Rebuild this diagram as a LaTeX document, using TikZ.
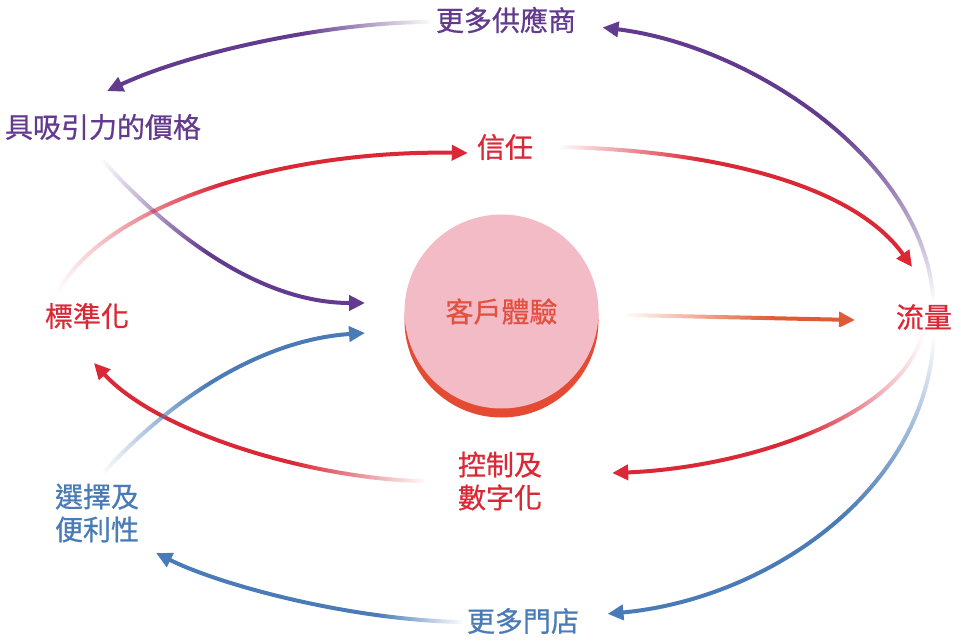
\documentclass[tikz,border=0pt]{standalone}
\usepackage{fontspec}
\usepackage{tikz}
\usetikzlibrary{arrows.meta,calc,fadings,shadows}
\newfontfamily\cjk[RawFeature={embolden=0.7}]{Noto Sans CJK TC}

\definecolor{supviolet}{HTML}{623A8E}
\definecolor{loopred}{HTML}{DA2837}
\definecolor{storeblue}{HTML}{4A7BB7}
\definecolor{cxorange}{HTML}{E05A35}
\definecolor{cxpink}{HTML}{F3BBC6}
\definecolor{cxshadow}{HTML}{E54B33}
\definecolor{cxtext}{HTML}{E2503F}

\pgfdeclarehorizontalshading{rampA}{100bp}{color(0bp)=(black); color(25bp)=(black); color(39bp)=(white); color(100bp)=(white)}
\pgfdeclarefading{rampA}{\pgfuseshading{rampA}}
\pgfdeclarehorizontalshading{rampB}{100bp}{color(0bp)=(black); color(25bp)=(black); color(45bp)=(white); color(100bp)=(white)}
\pgfdeclarefading{rampB}{\pgfuseshading{rampB}}
\pgfdeclarehorizontalshading{rampC}{100bp}{color(0bp)=(black); color(25bp)=(black); color(57bp)=(white); color(100bp)=(white)}
\pgfdeclarefading{rampC}{\pgfuseshading{rampC}}

\tikzset{
	lbl/.style={font=\cjk\fontsize{28}{33}\selectfont, inner sep=2pt, align=center},
	flowarrow/.style={line width=4pt, -{Triangle[length=16pt,width=15pt]}, path fading=#1}
}

\begin{document}
\begin{tikzpicture}[x=1pt,y=-1pt]
		\useasboundingbox (0,0) rectangle (961,644);

		\path	(506,20) node[lbl, text=supviolet](sup) {更多供應商}
			(103,127) node[lbl, text=supviolet](price) {具吸引力的價格}
			(505,147) node[lbl, text=loopred](trust) {信任}
			(87,316) node[lbl, text=loopred](std) {標準化}
			(924,317) node[lbl, text=loopred](flow) {流量}
			(500,481) node[lbl, text=loopred](ctrl) {控制及\\數字化}
			(97,513) node[lbl, text=storeblue](choice) {選擇及\\便利性}
			(523,621) node[lbl, text=storeblue](store) {更多門店};
		\node[lbl, circle, fill=cxpink, text=cxtext, inner sep=0pt, minimum size=194pt,
			drop shadow={shadow xshift=0pt, shadow yshift=-9pt, fill=cxshadow, opacity=1}]
			(cx) at (501.5,311.5) {客戶體驗};

		\draw[flowarrow=rampB, supviolet, fading angle=180] ($(sup)+(-76,2)$) .. controls (330,22) and (190,52) .. ($(price)+(4,-36)$);
		\draw[flowarrow=rampB, supviolet] ($(price)+(-1,33)$) .. controls (170,235) and (260,303) .. ($(cx)+(-136.5,-8.5)$);
		\draw[flowarrow=rampC, supviolet, fading angle=90] ($(flow)+(9,-17)$) .. controls (925,160) and (750,45) .. ($(sup)+(96,7)$);

		\draw[flowarrow=rampB, loopred] ($(trust)+(55,0)$) .. controls (700,150) and (850,180) .. ($(flow)+(-12,-50)$);
		\draw[flowarrow=rampB, loopred] ($(std)+(-30,-23)$) .. controls (105,205) and (280,150) .. ($(trust)+(-37,6)$);
		\draw[flowarrow=rampB, loopred, fading angle=180] ($(flow)+(-1,16)$) .. controls (900,420) and (740,468) .. ($(ctrl)+(112,-8)$);
		\draw[flowarrow=rampB, loopred, fading angle=180] ($(ctrl)+(-75,0)$) .. controls (320,480) and (160,435) .. ($(std)+(7,47)$);

		\draw[flowarrow=rampB, storeblue] ($(choice)+(6,-40)$) .. controls (170,400) and (260,340) .. ($(cx)+(-136.5,21.5)$);
		\draw[flowarrow=rampA, storeblue, fading angle=180] ($(store)+(-61,1)$) .. controls (350,620) and (220,585) .. ($(choice)+(59,40)$);
		\draw[flowarrow=rampC, storeblue, fading angle=-90] ($(flow)+(11,20)$) .. controls (928,490) and (770,600) .. ($(store)+(85,-6)$);

		\draw[flowarrow=rampC, cxorange] ($(cx)+(123.5,3.5)$) -- ($(flow)+(-69,3)$);
	\end{tikzpicture}
\end{document}
